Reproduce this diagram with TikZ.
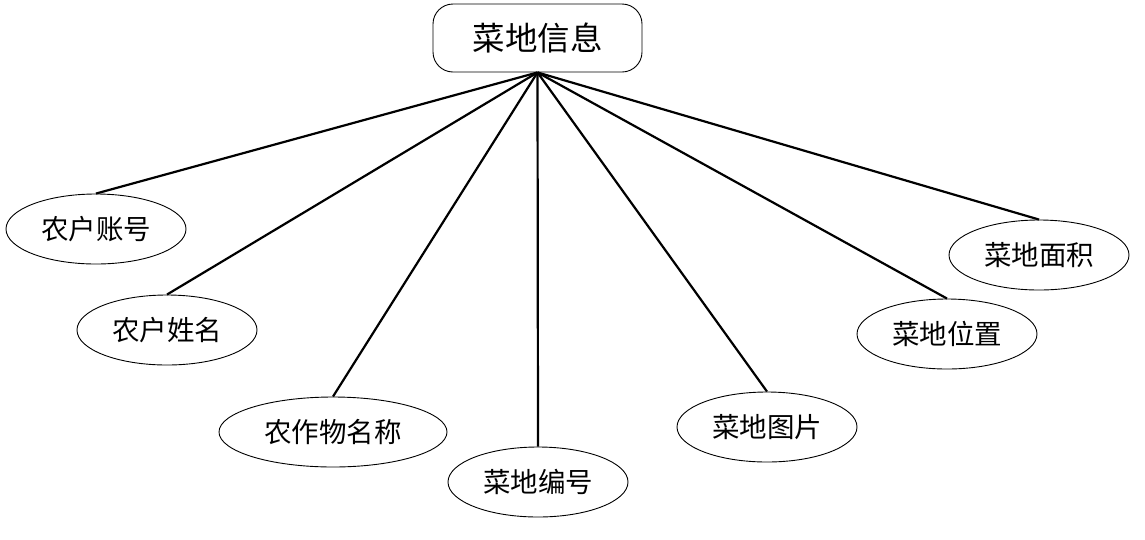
\documentclass[tikz,border=0pt]{standalone}
\usepackage{fontspec}
\setmainfont{Noto Sans CJK SC}
\usepackage{tikz}
\usetikzlibrary{shapes.geometric}
\tikzset{
  topbox/.style={draw=black, line width=0.9pt, rounded corners=20pt, minimum width=209pt, minimum height=68pt, inner sep=0pt, font=\fontsize{32.5}{32.5}\selectfont},
  attr/.style={draw=black, line width=0.9pt, ellipse, minimum width=180pt, minimum height=70pt, inner sep=0pt, font=\fontsize{27.5}{27.5}\selectfont},
  link/.style={line width=2.2pt}
}
\begin{document}
\begin{tikzpicture}[x=1pt, y=-1pt]
\useasboundingbox (0,0) rectangle (1145,539);
\node[topbox] (info) at (537.5,38) {菜地信息};
\node[attr] (acct) at (96,229) {农户账号};
\node[attr] (name) at (167,330) {农户姓名};
\node[attr, minimum width=228pt] (crop) at (333,432) {农作物名称};
\node[attr] (code) at (538,482) {菜地编号};
\node[attr] (pic) at (767,427) {菜地图片};
\node[attr] (loc) at (947,334) {菜地位置};
\node[attr] (area) at (1039,255) {菜地面积};
\foreach \n in {acct,name,crop,code,pic,loc,area}
  \draw[link] (info.south) -- (\n.north);
\end{tikzpicture}
\end{document}
